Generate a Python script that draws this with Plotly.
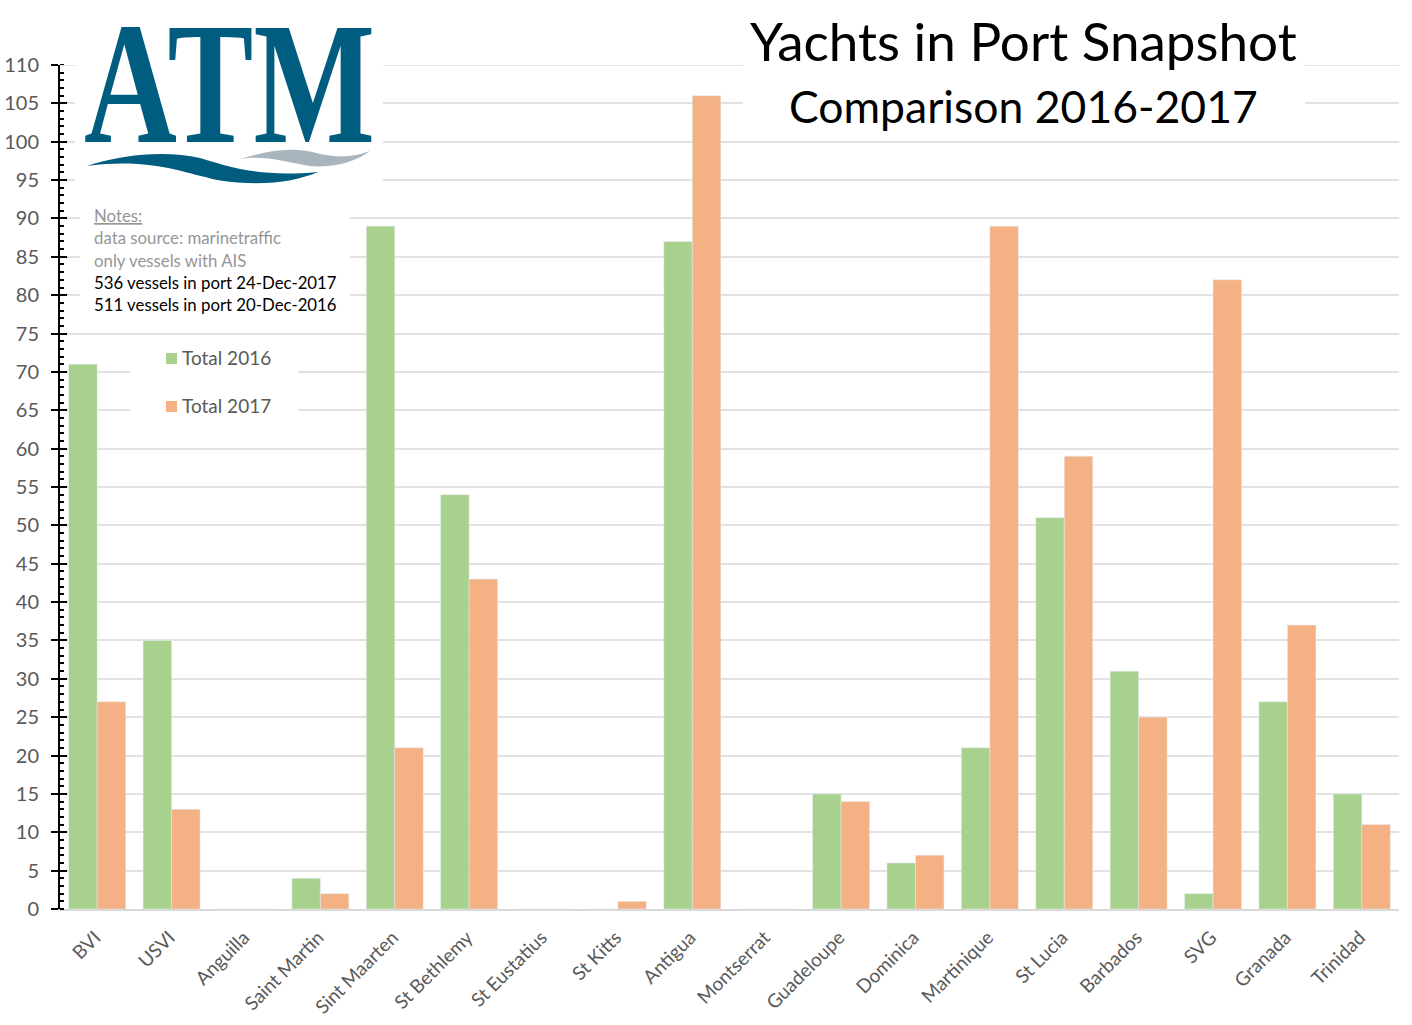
import plotly.graph_objects as go

W, H = 1412, 1025
L, R, T, B = 60, 13, 65, 116

ports = ["BVI", "USVI", "Anguilla", "Saint Martin", "Sint Maarten", "St Bethlemy", "St Eustatius",
         "St Kitts", "Antigua", "Montserrat", "Guadeloupe", "Dominica", "Martinique", "St Lucia",
         "Barbados", "SVG", "Granada", "Trinidad"]
total_2016 = [71, 35, 0, 4, 89, 54, 0, 0, 87, 0, 15, 6, 21, 51, 31, 2, 27, 15]
total_2017 = [27, 13, 0, 2, 21, 43, 0, 1, 106, 0, 14, 7, 89, 59, 25, 82, 37, 11]
y_ticks = list(range(0, 115, 5))

GREEN = "#a9d18e"
ORANGE = "#f4b183"
TEAL = "#005d7f"
GRID = "#e2e2e2"
FONT = "Lato"


# pixel position on the page -> paper coords
def px(x):
    return (x - L) / (W - L - R)


def py(y):
    return 1 - (y - T) / (H - T - B)


def white_box(x0, y0, x1, y1):
    return dict(type="rect", xref="paper", yref="paper", x0=px(x0), x1=px(x1), y0=py(y1), y1=py(y0),
                fillcolor="white", line_width=0, layer="above")


def wave(points, color):
    # first point is a move, the rest come in threes as cubic curves
    path = f"M{px(points[0][0])},{py(points[0][1])}"
    rest = points[1:]
    for i in range(0, len(rest), 3):
        path += " C" + " ".join(f"{px(a)},{py(b)}" for a, b in rest[i:i + 3])
    return dict(type="path", xref="paper", yref="paper", path=path + " Z", fillcolor=color, line_width=0,
                layer="above")


def label(x, y, text, size, color="#000000", anchor="left"):
    return dict(xref="paper", yref="paper", x=px(x), y=py(y), text=text, showarrow=False, xanchor=anchor,
                yanchor="middle", font=dict(family=FONT, size=size, color=color))


fig = go.Figure()
fig.add_bar(x=ports, y=total_2016, name="Total 2016", marker_color=GREEN)
fig.add_bar(x=ports, y=total_2017, name="Total 2017", marker_color=ORANGE)
# empty trace so the second axis gets drawn, it only adds the inner half of the major ticks
fig.add_scatter(x=[None], y=[None], yaxis="y2", showlegend=False)

shapes = [
    # plotly drops the gridline sitting on the top of the range
    dict(type="line", xref="paper", yref="y", x0=0, x1=1, y0=110, y1=110, line=dict(color=GRID, width=2),
         layer="above"),
    white_box(75, 0, 383, 200),
    white_box(80, 200, 350, 322),
    white_box(130, 345, 298, 420),
    white_box(743, 0, 1305, 135),
    wave([(87, 166), (120, 155), (165, 150), (200, 158), (225, 165), (255, 178), (318, 172),
          (295, 182), (260, 187), (217, 180), (180, 172), (150, 158), (87, 166)], TEAL),
    wave([(240, 159), (265, 152), (290, 145), (320, 154), (340, 158), (355, 157), (370, 151),
          (355, 162), (335, 168), (310, 166), (285, 162), (265, 155), (240, 159)], "#a8b5bd"),
    dict(type="rect", xref="paper", yref="paper", x0=px(166), x1=px(177), y0=py(364), y1=py(353),
         fillcolor=GREEN, line_width=0, layer="above"),
    dict(type="rect", xref="paper", yref="paper", x0=px(166), x1=px(177), y0=py(412), y1=py(401),
         fillcolor=ORANGE, line_width=0, layer="above"),
]

annotations = [
    dict(xref="paper", yref="paper", x=px(229.5), y=py(83), text="ATM", showarrow=False, xanchor="center",
         yanchor="middle", font=dict(family="Liberation Serif", size=174, color=TEAL, weight="bold")),
    label(1023, 40.5, "Yachts in Port Snapshot", 53, anchor="center"),
    label(1023, 105.5, "Comparison 2016-2017", 44.5, anchor="center"),
    label(92, 215, "<u>Notes:</u>", 16.8, "#969696"),
    label(92, 237, "data source: marinetraffic", 16.8, "#969696"),
    label(92, 260, "only vessels with AIS", 16.8, "#969696"),
    label(92, 282, "536 vessels in port 24-Dec-2017", 16.8),
    label(92, 304, "511 vessels in port 20-Dec-2016", 16.8),
    label(179.5, 358, "Total 2016", 19, "#595959"),
    label(179.5, 405, "Total 2017", 19, "#595959"),
]

fig.update_layout(
    width=W,
    height=H,
    margin=dict(l=L, r=R, t=T, b=B),
    paper_bgcolor="white",
    plot_bgcolor="white",
    showlegend=False,
    barmode="group",
    bargap=0.234,
    bargroupgap=0,
    shapes=shapes,
    annotations=annotations,
    font=dict(family=FONT, color="#595959"),
    xaxis=dict(
        type="category",
        automargin=False,
        tickangle=-45,
        tickfont_size=19,
        ticks="",
        showgrid=False,
        showline=True,
        linecolor="#d9d9d9",
        linewidth=2,
        ticklabelstandoff=8,
        ticklabelshift=-2,
    ),
    yaxis=dict(
        automargin=False,
        range=[0, 110],
        tickmode="array",
        tickvals=y_ticks,
        tickfont_size=20,
        ticks="outside",
        ticklen=7,
        tickwidth=2,
        tickcolor="black",
        showline=True,
        linecolor="black",
        linewidth=2,
        ticklabelstandoff=8,
        gridcolor=GRID,
        gridwidth=2,
        zeroline=False,
        minor=dict(ticks="inside", ticklen=4, tickwidth=2, tickcolor="black", dtick=1, tick0=0, showgrid=False),
    ),
    yaxis2=dict(
        automargin=False,
        overlaying="y",
        side="left",
        range=[0, 110],
        tickmode="array",
        tickvals=y_ticks,
        showticklabels=False,
        ticks="inside",
        ticklen=7,
        tickwidth=2,
        tickcolor="black",
        showgrid=False,
        zeroline=False,
    ),
)

# no body margin, and squeeze the logo letters like the original wordmark
post = """
document.body.style.margin = '0';
document.querySelectorAll('.annotation-text').forEach(function (t) {
  if (t.textContent === 'ATM') {
    var b = t.getBBox(), cx = b.x + b.width / 2;
    t.setAttribute('transform', 'translate(' + cx + ',0) scale(0.74,1) translate(' + (-cx) + ',0)');
  }
});
"""

fig.write_html("out.html", post_script=post, config=dict(displayModeBar=False))
